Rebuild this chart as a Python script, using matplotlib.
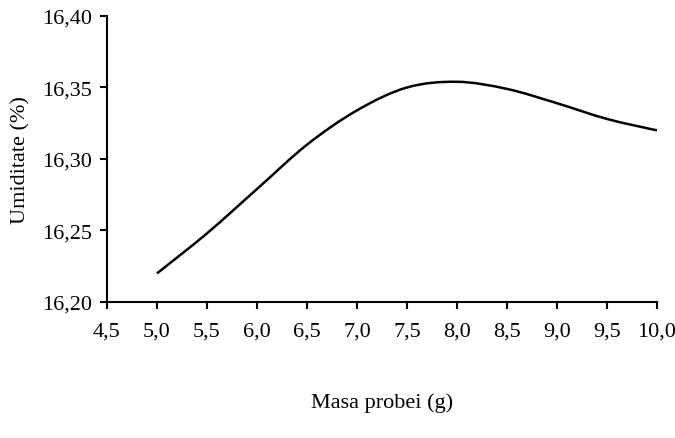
import matplotlib
matplotlib.use('Agg')
import matplotlib.pyplot as plt
import numpy as np
from matplotlib.path import Path
from matplotlib.patches import PathPatch

# values
masa = [5.0, 5.5, 6.0, 6.5, 7.0, 7.5, 8.0, 8.5, 9.0, 9.5, 10.0]
umiditate = [16.220, 16.248, 16.279, 16.310, 16.334, 16.350, 16.354, 16.349, 16.339, 16.328, 16.320]

x_ticks = [4.5, 5.0, 5.5, 6.0, 6.5, 7.0, 7.5, 8.0, 8.5, 9.0, 9.5, 10.0]
y_ticks = [16.20, 16.25, 16.30, 16.35, 16.40]

plt.rcParams['font.family'] = 'Liberation Serif'

fig = plt.figure(figsize=(6.75, 4.39), dpi=100)
ax = fig.add_axes([0.1585, 0.3098, 0.8148, 0.6515])


def smooth_path(xs, ys, t=1/6):
    # Catmull-Rom style smoothing, drawn as cubic bezier segments (like a spreadsheet "smoothed line")
    pts = np.column_stack([xs, ys])
    verts = [pts[0]]
    codes = [Path.MOVETO]
    n = len(pts)
    for i in range(n - 1):
        p0 = pts[i - 1] if i > 0 else pts[i]
        p1 = pts[i]
        p2 = pts[i + 1]
        p3 = pts[i + 2] if i + 2 < n else pts[i + 1]
        c1 = p1 + (p2 - p0) * t
        c2 = p2 - (p3 - p1) * t
        verts += [c1, c2, p2]
        codes += [Path.CURVE4] * 3
    return Path(verts, codes)


ax.add_patch(PathPatch(smooth_path(masa, umiditate), facecolor='none', edgecolor='black', lw=1.8))

ax.set_xlim(4.5, 10.0)
ax.set_ylim(16.20, 16.40)
ax.set_xticks(x_ticks)
ax.set_yticks(y_ticks)
ax.set_xticklabels([f'{v:.1f}'.replace('.', ',') for v in x_ticks])
ax.set_yticklabels([f'{v:.2f}'.replace('.', ',') for v in y_ticks])

for s in ['top', 'right']:
    ax.spines[s].set_visible(False)
for s in ['left', 'bottom']:
    ax.spines[s].set_linewidth(1.5)

ax.tick_params(direction='out', length=5, width=1.5, labelsize=16)
ax.tick_params(axis='x', pad=9)
ax.tick_params(axis='y', pad=6)

ax.set_ylabel('Umiditate (%)', fontsize=16, labelpad=8)
fig.text(0.566, 0.082, 'Masa probei (g)', ha='center', va='center', fontsize=16)

fig.savefig('out.png', dpi=100)
